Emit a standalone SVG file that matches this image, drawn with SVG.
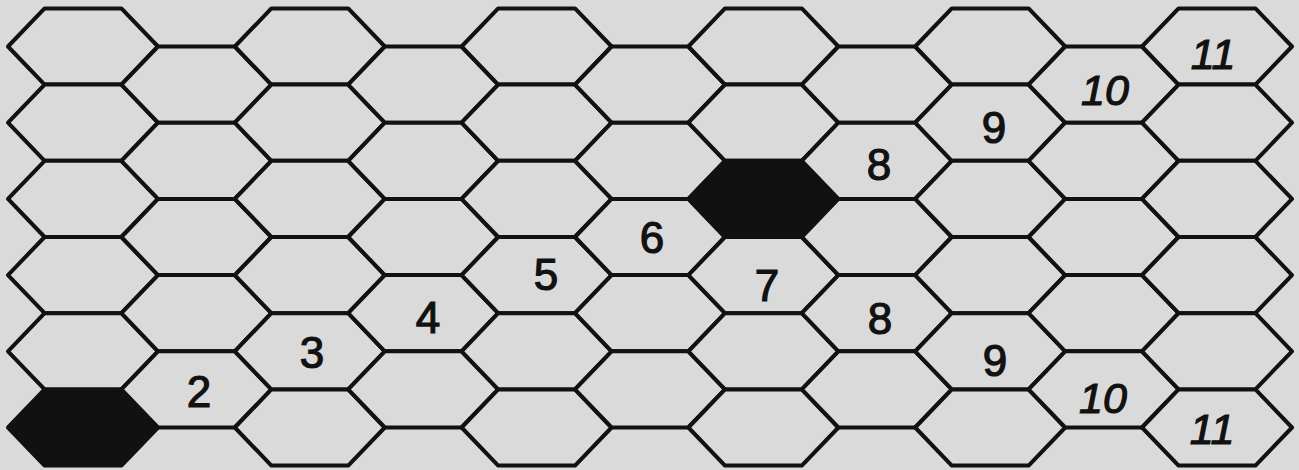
<svg xmlns="http://www.w3.org/2000/svg" xmlns:xlink="http://www.w3.org/1999/xlink" width="1299" height="470" viewBox="0 0 1299 470">
<style>
.hex{fill:#dadada;stroke:#111;stroke-width:4;stroke-linejoin:round}
.dark{fill:#111;stroke:#111;stroke-width:4;stroke-linejoin:round}
.lbl{font-family:"Liberation Sans",Arial,sans-serif;font-size:44px;fill:#111;stroke:#111;stroke-width:1.2;text-anchor:middle}
.lbi{font-family:"Liberation Sans",Arial,sans-serif;font-size:43px;font-style:italic;fill:#111;stroke:#111;stroke-width:1.2;text-anchor:middle}
</style>
<defs>
<polygon id="h" points="-75,0 -38.4,-38.1 38.4,-38.1 75,0 38.4,38.1 -38.4,38.1"/>
</defs>
<rect x="0" y="0" width="1299" height="470" fill="#dadada"/>
<g id="grid">
<g id="c0r0"><use href="#h" class="hex" x="83" y="46.5"/></g>
<g id="c0r1"><use href="#h" class="hex" x="83" y="122.7"/></g>
<g id="c0r2"><use href="#h" class="hex" x="83" y="198.9"/></g>
<g id="c0r3"><use href="#h" class="hex" x="83" y="275.1"/></g>
<g id="c0r4"><use href="#h" class="hex" x="83" y="351.3"/></g>
<g id="c0r5"><use href="#h" class="dark" x="83" y="427.5"/></g>

<g id="c1r0"><use href="#h" class="hex" x="196.4" y="84.6"/></g>
<g id="c1r1"><use href="#h" class="hex" x="196.4" y="160.8"/></g>
<g id="c1r2"><use href="#h" class="hex" x="196.4" y="237"/></g>
<g id="c1r3"><use href="#h" class="hex" x="196.4" y="313.2"/></g>
<g id="c1r4"><use href="#h" class="hex" x="196.4" y="389.4"/><text class="lbl" x="199" y="407">2</text></g>

<g id="c2r0"><use href="#h" class="hex" x="309.8" y="46.5"/></g>
<g id="c2r1"><use href="#h" class="hex" x="309.8" y="122.7"/></g>
<g id="c2r2"><use href="#h" class="hex" x="309.8" y="198.9"/></g>
<g id="c2r3"><use href="#h" class="hex" x="309.8" y="275.1"/></g>
<g id="c2r4"><use href="#h" class="hex" x="309.8" y="351.3"/><text class="lbl" x="312" y="368">3</text></g>
<g id="c2r5"><use href="#h" class="hex" x="309.8" y="427.5"/></g>

<g id="c3r0"><use href="#h" class="hex" x="423.2" y="84.6"/></g>
<g id="c3r1"><use href="#h" class="hex" x="423.2" y="160.8"/></g>
<g id="c3r2"><use href="#h" class="hex" x="423.2" y="237"/></g>
<g id="c3r3"><use href="#h" class="hex" x="423.2" y="313.2"/><text class="lbl" x="428" y="333">4</text></g>
<g id="c3r4"><use href="#h" class="hex" x="423.2" y="389.4"/></g>

<g id="c4r0"><use href="#h" class="hex" x="536.6" y="46.5"/></g>
<g id="c4r1"><use href="#h" class="hex" x="536.6" y="122.7"/></g>
<g id="c4r2"><use href="#h" class="hex" x="536.6" y="198.9"/></g>
<g id="c4r3"><use href="#h" class="hex" x="536.6" y="275.1"/><text class="lbl" x="546" y="290">5</text></g>
<g id="c4r4"><use href="#h" class="hex" x="536.6" y="351.3"/></g>
<g id="c4r5"><use href="#h" class="hex" x="536.6" y="427.5"/></g>

<g id="c5r0"><use href="#h" class="hex" x="650" y="84.6"/></g>
<g id="c5r1"><use href="#h" class="hex" x="650" y="160.8"/></g>
<g id="c5r2"><use href="#h" class="hex" x="650" y="237"/><text class="lbl" x="652" y="253">6</text></g>
<g id="c5r3"><use href="#h" class="hex" x="650" y="313.2"/></g>
<g id="c5r4"><use href="#h" class="hex" x="650" y="389.4"/></g>

<g id="c6r0"><use href="#h" class="hex" x="763.4" y="46.5"/></g>
<g id="c6r1"><use href="#h" class="hex" x="763.4" y="122.7"/></g>
<g id="c6r2"><use href="#h" class="dark" x="763.4" y="198.9"/></g>
<g id="c6r3"><use href="#h" class="hex" x="763.4" y="275.1"/><text class="lbl" x="767" y="301">7</text></g>
<g id="c6r4"><use href="#h" class="hex" x="763.4" y="351.3"/></g>
<g id="c6r5"><use href="#h" class="hex" x="763.4" y="427.5"/></g>

<g id="c7r0"><use href="#h" class="hex" x="876.8" y="84.6"/></g>
<g id="c7r1"><use href="#h" class="hex" x="876.8" y="160.8"/><text class="lbl" x="879" y="180">8</text></g>
<g id="c7r2"><use href="#h" class="hex" x="876.8" y="237"/></g>
<g id="c7r3"><use href="#h" class="hex" x="876.8" y="313.2"/><text class="lbl" x="880" y="334">8</text></g>
<g id="c7r4"><use href="#h" class="hex" x="876.8" y="389.4"/></g>

<g id="c8r0"><use href="#h" class="hex" x="990.2" y="46.5"/></g>
<g id="c8r1"><use href="#h" class="hex" x="990.2" y="122.7"/><text class="lbl" x="994" y="143">9</text></g>
<g id="c8r2"><use href="#h" class="hex" x="990.2" y="198.9"/></g>
<g id="c8r3"><use href="#h" class="hex" x="990.2" y="275.1"/></g>
<g id="c8r4"><use href="#h" class="hex" x="990.2" y="351.3"/><text class="lbl" x="995" y="376">9</text></g>
<g id="c8r5"><use href="#h" class="hex" x="990.2" y="427.5"/></g>

<g id="c9r0"><use href="#h" class="hex" x="1103.6" y="84.6"/><text class="lbi" x="1105" y="105">10</text></g>
<g id="c9r1"><use href="#h" class="hex" x="1103.6" y="160.8"/></g>
<g id="c9r2"><use href="#h" class="hex" x="1103.6" y="237"/></g>
<g id="c9r3"><use href="#h" class="hex" x="1103.6" y="313.2"/></g>
<g id="c9r4"><use href="#h" class="hex" x="1103.6" y="389.4"/><text class="lbi" x="1103" y="413">10</text></g>

<g id="c10r0"><use href="#h" class="hex" x="1217" y="46.5"/><text class="lbi" x="1213" y="69">11</text></g>
<g id="c10r1"><use href="#h" class="hex" x="1217" y="122.7"/></g>
<g id="c10r2"><use href="#h" class="hex" x="1217" y="198.9"/></g>
<g id="c10r3"><use href="#h" class="hex" x="1217" y="275.1"/></g>
<g id="c10r4"><use href="#h" class="hex" x="1217" y="351.3"/></g>
<g id="c10r5"><use href="#h" class="hex" x="1217" y="427.5"/><text class="lbi" x="1212" y="444">11</text></g>
</g>
</svg>
